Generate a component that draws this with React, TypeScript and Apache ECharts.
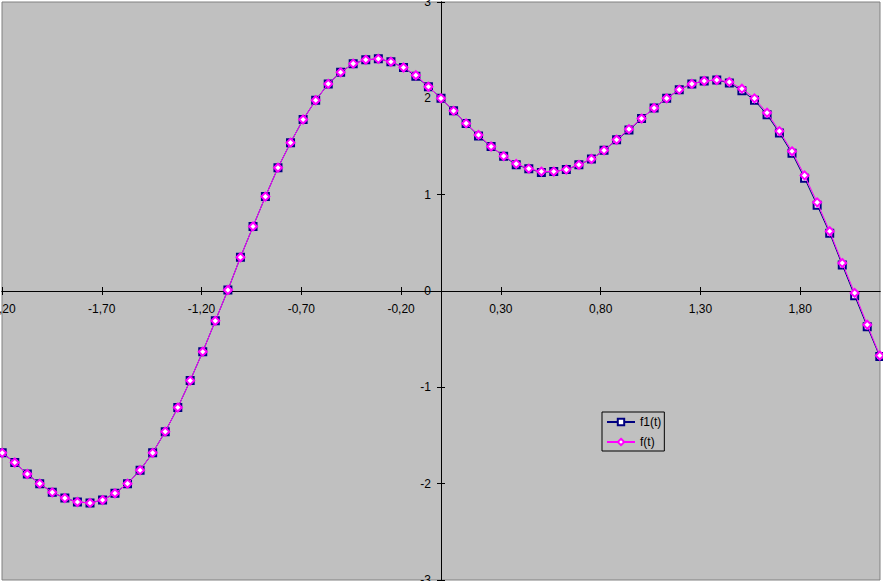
import { useEffect, useRef } from "react";
import * as echarts from "echarts";

// sample points t (from -0.7π to 0.7π, step π/50)
const T = [
  -2.199, -2.136, -2.073, -2.011, -1.948, -1.885, -1.822, -1.759, -1.696, -1.634,
  -1.571, -1.508, -1.445, -1.382, -1.319, -1.257, -1.194, -1.131, -1.068, -1.005,
  -0.942, -0.88, -0.817, -0.754, -0.691, -0.628, -0.565, -0.503, -0.44, -0.377,
  -0.314, -0.251, -0.188, -0.126, -0.063, 0.0, 0.063, 0.126, 0.188, 0.251,
  0.314, 0.377, 0.44, 0.503, 0.565, 0.628, 0.691, 0.754, 0.817, 0.88,
  0.942, 1.005, 1.068, 1.131, 1.194, 1.257, 1.319, 1.382, 1.445, 1.508,
  1.571, 1.634, 1.696, 1.759, 1.822, 1.885, 1.948, 2.011, 2.073, 2.136,
  2.199,
];

const F1 = [
  -1.68, -1.78, -1.9, -2.0, -2.09, -2.15, -2.19, -2.2, -2.17, -2.1,
  -2.0, -1.86, -1.68, -1.46, -1.21, -0.93, -0.63, -0.31, 0.01, 0.35,
  0.67, 0.98, 1.28, 1.54, 1.78, 1.98, 2.15, 2.27, 2.36, 2.4,
  2.41, 2.38, 2.32, 2.23, 2.12, 2.0, 1.87, 1.74, 1.61, 1.5,
  1.4, 1.31, 1.27, 1.23, 1.24, 1.26, 1.31, 1.37, 1.46, 1.57,
  1.67, 1.79, 1.9, 2.0, 2.09, 2.15, 2.18, 2.19, 2.16, 2.08,
  1.98, 1.83, 1.64, 1.43, 1.17, 0.89, 0.6, 0.27, -0.05, -0.37,
  -0.68,
];

const F = [
  -1.68, -1.78, -1.9, -2.0, -2.09, -2.15, -2.19, -2.2, -2.17, -2.1,
  -2.0, -1.86, -1.68, -1.46, -1.21, -0.93, -0.63, -0.31, 0.01, 0.35,
  0.67, 0.98, 1.28, 1.54, 1.78, 1.98, 2.15, 2.27, 2.36, 2.4,
  2.41, 2.38, 2.32, 2.24, 2.12, 2.0, 1.87, 1.74, 1.62, 1.5,
  1.4, 1.32, 1.27, 1.24, 1.24, 1.26, 1.31, 1.37, 1.46, 1.57,
  1.68, 1.79, 1.9, 2.0, 2.09, 2.15, 2.18, 2.19, 2.17, 2.1,
  2.0, 1.85, 1.66, 1.45, 1.2, 0.92, 0.62, 0.29, -0.02, -0.35,
  -0.67,
];

const X_TICKS = [-2.2, -1.7, -1.2, -0.7, -0.2, 0.3, 0.8, 1.3, 1.8];
const SERIES_NAMES = ["f1(t)", "f(t)"];
const SERIES_COLORS = ["#000080", "#ff00ff"];

// layout of the plot area (pixels)
const GRID_LEFT = 2;
const GRID_TOP = 2;
const GRID_W = 878;
const GRID_H = 578;
const X_MIN = -2.2;
const X_MAX = 2.2;
const Y_MIN = -3;
const Y_MAX = 3;

export default function App() {
  const ref = useRef<HTMLDivElement>(null);

  useEffect(() => {
    if (!ref.current) return;
    const chart = echarts.init(ref.current, null, { renderer: "svg" });
    const font = 'Arial, "Liberation Sans", sans-serif';
    const fmt = (v: number) => Number(v).toFixed(2).replace(".", ",");
    const axisLine = { show: true, onZero: false, lineStyle: { color: "#000", width: 1 } };
    const tickStyle = { color: "#000", width: 1 };

    // where the zero lines fall inside the plot area
    const zeroX = (GRID_W * (0 - X_MIN)) / (X_MAX - X_MIN); // from grid left
    const zeroY = (GRID_H * (Y_MAX - 0)) / (Y_MAX - Y_MIN); // from grid top

    const xBase: any = {
      type: "value",
      min: X_MIN,
      max: X_MAX,
      splitLine: { show: false },
      axisLine,
    };
    const yBase: any = {
      type: "value",
      min: Y_MIN,
      max: Y_MAX,
      interval: 1,
      splitLine: { show: false },
      axisLine,
    };

    const pts = (ys: number[]) => T.map((t, i) => [t, ys[i]]);

    chart.setOption({
      animation: false,
      backgroundColor: "#ffffff",
      grid: {
        left: GRID_LEFT,
        top: GRID_TOP,
        width: GRID_W,
        height: GRID_H,
        containLabel: false,
        outerBoundsMode: "none",
        show: true,
        backgroundColor: "#c0c0c0",
        borderColor: "#808080",
        borderWidth: 1,
      },
      xAxis: [
        {
          ...xBase,
          position: "bottom",
          offset: -(GRID_H - zeroY),
          axisTick: { show: true, customValues: X_TICKS, length: 4, lineStyle: tickStyle },
          axisLabel: {
            customValues: X_TICKS,
            formatter: fmt,
            color: "#000",
            fontSize: 12,
            fontFamily: font,
            margin: 12,
          },
        },
        {
          ...xBase,
          position: "top",
          offset: -zeroY,
          axisTick: { show: true, customValues: X_TICKS, length: 4, lineStyle: tickStyle },
          axisLabel: { show: false },
        },
      ],
      yAxis: [
        {
          ...yBase,
          position: "left",
          offset: -zeroX,
          axisTick: { show: true, length: 4, lineStyle: tickStyle },
          axisLabel: { color: "#000", fontSize: 12, fontFamily: font, margin: 10 },
        },
        {
          ...yBase,
          position: "right",
          offset: -(GRID_W - zeroX),
          axisTick: { show: true, length: 4, lineStyle: tickStyle },
          axisLabel: { show: false },
        },
      ],
      legend: {
        orient: "vertical",
        left: 602,
        top: 412,
        data: SERIES_NAMES,
        borderColor: "#000",
        borderWidth: 1,
        backgroundColor: "transparent",
        padding: [4, 3, 3, 4],
        itemWidth: 28,
        itemHeight: 8,
        itemGap: 8,
        textStyle: { color: "#000", fontSize: 12, fontFamily: font },
      },
      series: [
        {
          name: SERIES_NAMES[0],
          type: "line",
          xAxisIndex: 0,
          yAxisIndex: 0,
          data: pts(F1),
          symbol: "emptyRect",
          symbolSize: 7,
          lineStyle: { color: SERIES_COLORS[0], width: 1 },
          itemStyle: { color: SERIES_COLORS[0], borderColor: SERIES_COLORS[0], borderWidth: 1 },
          z: 3,
        },
        {
          name: SERIES_NAMES[1],
          type: "line",
          xAxisIndex: 0,
          yAxisIndex: 0,
          data: pts(F),
          symbol: "emptyDiamond",
          symbolSize: 8,
          lineStyle: { color: SERIES_COLORS[1], width: 1 },
          itemStyle: { color: SERIES_COLORS[1], borderColor: SERIES_COLORS[1], borderWidth: 1 },
          z: 4,
        },
      ],
      graphic: [
        {
          type: "rect",
          left: 0,
          top: 581,
          z: 100,
          shape: { width: 883, height: 2 },
          style: { fill: "#ffffff" },
        },
      ],
    });

    return () => chart.dispose();
  }, []);

  return (
    <div
      ref={ref}
      style={{ position: "fixed", left: 0, top: 0, width: 883, height: 583, background: "#fff" }}
    />
  );
}
